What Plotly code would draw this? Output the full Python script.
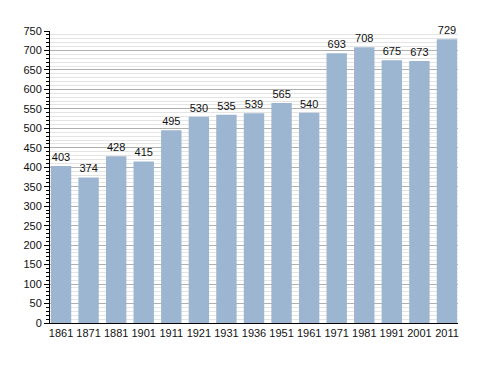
import plotly.graph_objects as go

years = ["1861", "1871", "1881", "1901", "1911", "1921", "1931", "1936", "1951", "1961",
         "1971", "1981", "1991", "2001", "2011"]
population = [403, 374, 428, 415, 495, 530, 535, 539, 565, 540, 693, 708, 675, 673, 729]
y_ticks = list(range(0, 751, 50))

fig = go.Figure(go.Bar(
    x=years, y=population,
    marker=dict(color="#9cb5d1", line=dict(width=0)),
    text=[str(v) for v in population], textposition="outside",
    textfont=dict(size=11, color="#111", family="Liberation Sans, Arial"),
    cliponaxis=False,
))

# page body has an 8px margin; compensate so the plot lands where the reference has it
fig.update_layout(
    width=480, height=365,
    margin=dict(l=42, r=30, t=23, b=50),
    paper_bgcolor="white", plot_bgcolor="white",
    bargap=0.26,
    showlegend=False,
    font=dict(family="Liberation Sans, Arial", size=11, color="#111"),
    uniformtext=dict(minsize=11, mode="show"),
)
fig.update_xaxes(
    type="category", range=[-0.4, 14.4],
    showline=True, linecolor="black", linewidth=1,
    ticks="", showgrid=False, tickfont=dict(size=11),
)
fig.update_yaxes(
    range=[0, 750], tickvals=y_ticks,
    showline=True, linecolor="black", linewidth=1,
    ticks="outside", ticklen=5, tickcolor="black",
    showgrid=True, gridcolor="#b0b0b0", gridwidth=1,
    minor=dict(dtick=10, ticks="outside", ticklen=3, tickcolor="black",
               showgrid=True, gridcolor="#e4e4e4", gridwidth=1),
    tickfont=dict(size=11), zeroline=False,
)

fig.write_html("out.html")
